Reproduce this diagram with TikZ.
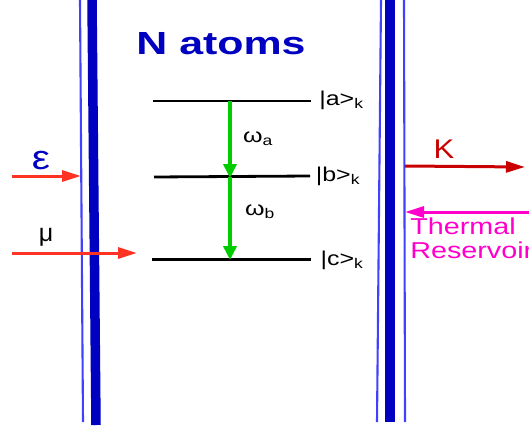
\documentclass[tikz,border=0pt]{standalone}
\usepackage{fontspec}
\setmainfont{Liberation Sans}
\usetikzlibrary{arrows.meta}
\definecolor{wallblue}{HTML}{0000C0}
\definecolor{thinblue}{HTML}{4040FF}
\definecolor{redarrow}{HTML}{FF3324}
\definecolor{kred}{HTML}{C80000}
\definecolor{pinkish}{HTML}{FF00CC}
\definecolor{greenarrow}{HTML}{00CC00}
\tikzset{
 x=1pt,y=-1pt,
 thinwall/.style={draw=thinblue,line width=2.1pt},
 thickwall/.style={draw=wallblue,line width=9.5pt},
 level/.style={draw=black,line width=2.8pt},
 trans/.style={draw=greenarrow,line width=4pt,-{Triangle[length=14pt,width=13pt]},shorten >=-1pt},
 pump/.style={line width=3pt,-{Triangle[length=19pt,width=11pt]}},
 lab/.style={inner sep=0pt,font=\fontsize{20}{20}\selectfont,xscale=1.25},
}
\begin{document}
\begin{tikzpicture}
\useasboundingbox (0,0) rectangle (529,428);
\coordinate (l1t) at (80,0); \coordinate (l1b) at (83,422);
\coordinate (l2t) at (92,0); \coordinate (l2b) at (96,425);
\coordinate (r1t) at (381,0); \coordinate (r1b) at (377,422);
\coordinate (r2t) at (390,0); \coordinate (r2b) at (390,422);
\coordinate (r3t) at (404,0); \coordinate (r3b) at (405,422);
\draw[thinwall] (l1t) -- (l1b);
\draw[thickwall] (l2t) -- (l2b);
\draw[thinwall] (r1t) -- (r1b);
\draw[thickwall] (r2t) -- (r2b);
\draw[thinwall] (r3t) -- (r3b);
\coordinate (a1) at (153,101); \coordinate (a2) at (311,101);
\coordinate (b1) at (154,177); \coordinate (b2) at (310,176);
\coordinate (c1) at (152,259.5); \coordinate (c2) at (311,259.5);
\draw[level] (a1) -- (a2);
\draw[level] (b1) -- (b2);
\draw[level] (c1) -- (c2);
\coordinate (ga) at (230,101); \coordinate (gb) at (230,177); \coordinate (gc) at (230,259);
\draw[trans] (ga) -- (gb);
\draw[trans] (gb) -- (gc);
\coordinate (e1) at (12,176); \coordinate (e2) at (81,176);
\coordinate (m1) at (12,253); \coordinate (m2) at (137,253);
\coordinate (k1) at (405,166); \coordinate (k2) at (525,167);
\coordinate (t1) at (529,212); \coordinate (t2) at (405,212);
\draw[pump,draw=redarrow,fill=redarrow] (e1) -- (e2);
\draw[pump,draw=redarrow,fill=redarrow] (m1) -- (m2);
\draw[pump,draw=kred,fill=kred] (k1) -- (k2);
\draw[pump,draw=pinkish,fill=pinkish] (t1) -- (t2);
\node[inner sep=0pt,text=wallblue,font=\fontsize{32}{32}\selectfont\bfseries,xscale=1.34] (title) at (221,44) {N atoms};
\node[lab] (la) at (341.5,100) {|a>\textsubscript{k}};
\node[lab] (lb) at (338,176) {|b>\textsubscript{k}};
\node[lab] (lc) at (342,260) {|c>\textsubscript{k}};
\node[lab] (wa) at (258,139) {ω\textsubscript{a}};
\node[lab] (wb) at (260,212) {ω\textsubscript{b}};
\node[inner sep=0pt,text=wallblue,font=\fontsize{34}{34}\selectfont,xscale=1.2] (eps) at (41,161) {ε};
\node[inner sep=0pt,font=\fontsize{25}{25}\selectfont] (mu) at (46,237) {μ};
\node[inner sep=0pt,text=kred,font=\fontsize{27}{27}\selectfont,xscale=1.15] (K) at (444,149) {K};
\node[inner sep=0pt,text=pinkish,font=\fontsize{23}{24}\selectfont,align=left,anchor=north west,xscale=1.25] (TR) at (410,218) {Thermal\\Reservoir};
\end{tikzpicture}
\end{document}
